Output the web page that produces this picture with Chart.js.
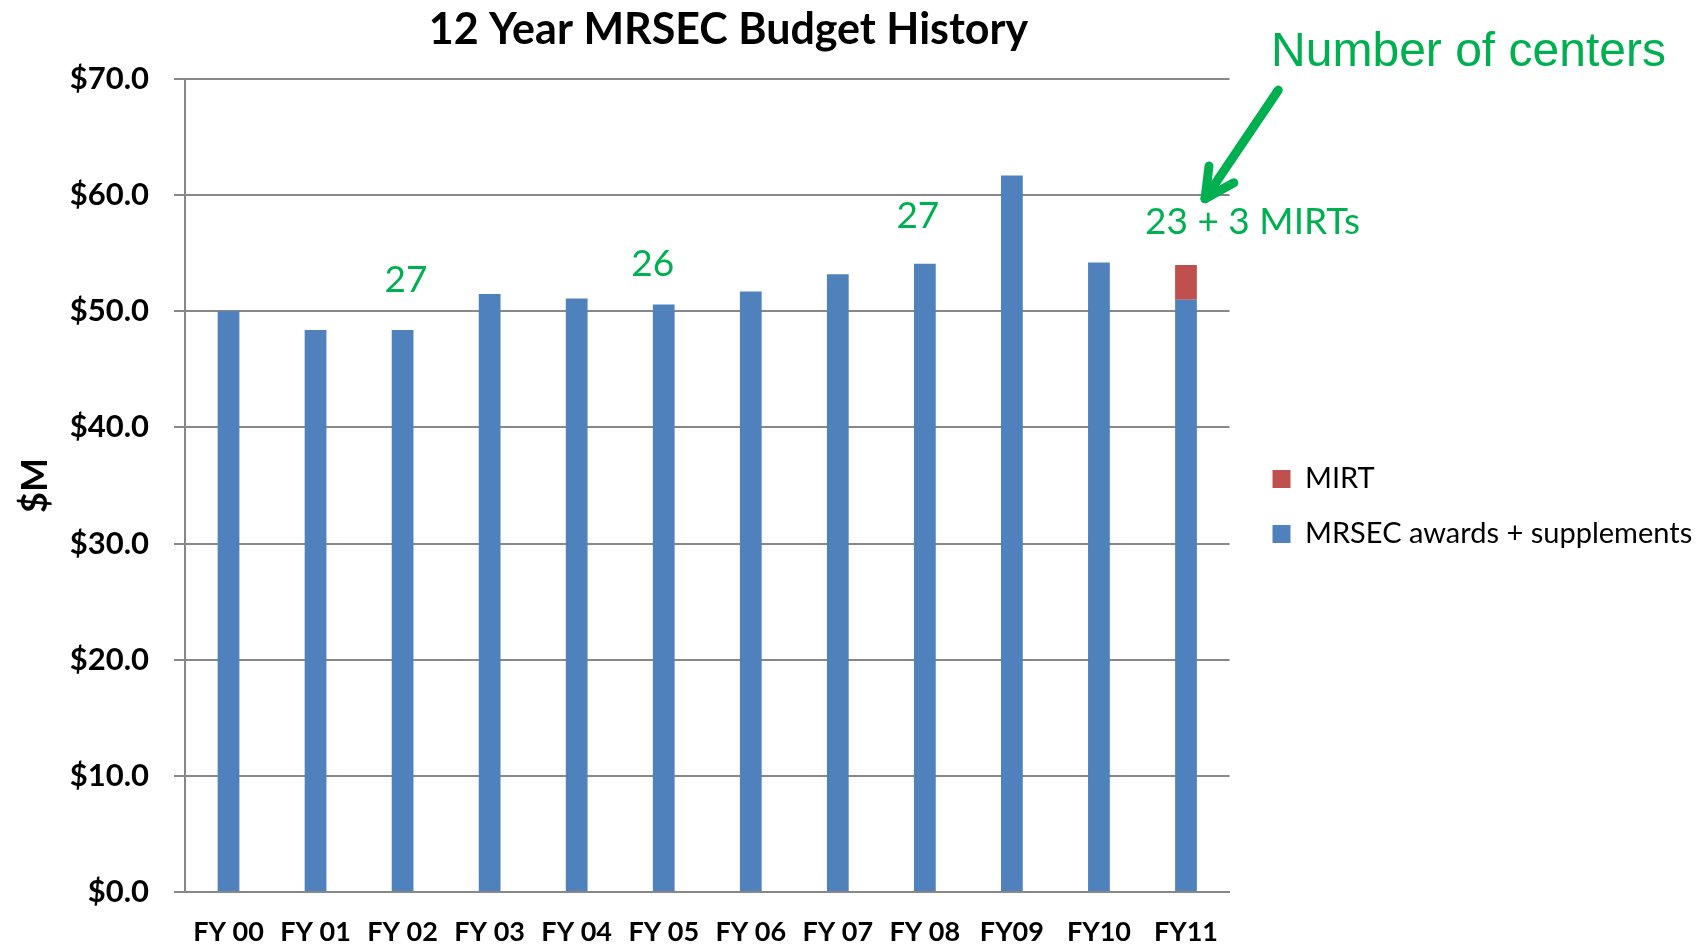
<!DOCTYPE html>
<html>
<head>
<meta charset="utf-8">
<title>12 Year MRSEC Budget History</title>
<script src="https://cdn.jsdelivr.net/npm/chart.js@4.4.1/dist/chart.umd.min.js"></script>
<style>
  html, body { margin: 0; padding: 0; background: #ffffff; }
  #wrap { width: 1697px; height: 947px; }
</style>
</head>
<body>
<div id="wrap"><canvas id="c" width="1697" height="947"></canvas></div>
<script>
// ---- data ----
const categories = ['FY 00', 'FY 01', 'FY 02', 'FY 03', 'FY 04', 'FY 05', 'FY 06', 'FY 07', 'FY 08', 'FY09', 'FY10', 'FY11'];
const mrsecValues = [50.0, 48.4, 48.4, 51.5, 51.1, 50.6, 51.7, 53.2, 54.1, 61.7, 54.2, 51.0];
const mirtValues = [null, null, null, null, null, null, null, null, null, null, null, 3.0];
const yTickValues = [0, 10, 20, 30, 40, 50, 60, 70];
const centerNoteIndex = [2, 5, 8, 11];
const centerNoteText = ['27', '26', '27', '23 + 3 MIRTs'];

const GREEN = '#00B050';
const GRID = '#888888';
const BODY_FONT = 'Lato';

// positions of the green notes (x offset in px from category centre, y in axis units)
const notePlacement = [
  {dx: 3.4, v: 52.8},
  {dx: -11, v: 54.2},
  {dx: -7, v: 58.3},
  {dx: 66.5, v: 57.8}
];

const annotations = {
  id: 'annotations',
  afterLayout(chart) {
    const lg = chart.legend;
    const dx = chart.chartArea.right + 17 - lg.left;
    lg.left += dx;
    lg.right = chart.width;
    lg.width = lg.right - lg.left;
    lg.top += 33; lg.bottom += 33;
  },
  afterDraw(chart) {
    const {ctx, scales: {x, y}} = chart;
    ctx.save();
    // green centre-count notes
    ctx.fillStyle = GREEN;
    ctx.textAlign = 'center';
    ctx.textBaseline = 'alphabetic';
    const fs = 37;
    ctx.font = fs + 'px ' + BODY_FONT;
    centerNoteIndex.forEach((idx, i) => {
      const p = notePlacement[i];
      const cx = x.getPixelForValue(idx) + p.dx;
      const cy = y.getPixelForValue(p.v);
      ctx.fillText(centerNoteText[i], cx, cy + fs * 0.358);
    });
    // "Number of centers"
    ctx.font = '48px "Liberation Sans", Arial, sans-serif';
    ctx.textBaseline = 'alphabetic';
    ctx.fillText('Number of centers', 1468.5, 49 + 48 * 0.358);
    // arrow
    const last = categories.length - 1;
    const bx = x.getPixelForValue(last);
    const tx = bx + 92.3, ty = y.getPixelForValue(69.05);
    const hx = bx + 19, hy = y.getPixelForValue(59.7);
    ctx.strokeStyle = GREEN;
    ctx.lineWidth = 9;
    ctx.lineCap = 'round';
    ctx.lineJoin = 'round';
    ctx.beginPath();
    ctx.moveTo(tx, ty);
    ctx.lineTo(hx, hy);
    ctx.stroke();
    const ang = Math.atan2(ty - hy, tx - hx);
    const wl = 33, spread = 27 * Math.PI / 180;
    ctx.beginPath();
    ctx.moveTo(hx + wl * Math.cos(ang - spread), hy + wl * Math.sin(ang - spread));
    ctx.lineTo(hx, hy);
    ctx.lineTo(hx + wl * Math.cos(ang + spread), hy + wl * Math.sin(ang + spread));
    ctx.stroke();
    ctx.restore();
  }
};

new Chart(document.getElementById('c'), {
  type: 'bar',
  data: {
    labels: categories,
    datasets: [
      {
        label: 'MRSEC awards + supplements',
        data: mrsecValues,
        backgroundColor: '#4F81BD',
        borderWidth: 0,
        categoryPercentage: 1.0,
        barPercentage: 0.25
      },
      {
        label: 'MIRT',
        data: mirtValues,
        backgroundColor: '#C0504D',
        borderWidth: 0,
        categoryPercentage: 1.0,
        barPercentage: 0.25
      }
    ]
  },
  options: {
    responsive: false,
    devicePixelRatio: 1,
    animation: false,
    layout: { padding: { left: 0, right: 240, top: 0, bottom: 0 } },
    plugins: {
      title: {
        display: true,
        text: '12 Year MRSEC Budget History',
        color: '#000000',
        font: { family: BODY_FONT, size: 43, weight: 'bold' },
        padding: { top: 4, bottom: 23.5 }
      },
      legend: {
        position: 'right',
        reverse: true,
        maxWidth: 227.5,
        labels: {
          boxWidth: 18,
          boxHeight: 18,
          padding: 26,
          color: '#000000',
          font: { family: BODY_FONT, size: 29 }
        }
      },
      tooltip: { enabled: false }
    },
    scales: {
      x: {
        stacked: true,
        grid: { display: false, drawTicks: false },
        border: { display: true, color: GRID, width: 2 },
        ticks: {
          color: '#000000',
          padding: 23.8,
          maxRotation: 0,
          autoSkip: false,
          font: { family: BODY_FONT, size: 27, weight: 'bold' }
        },
        afterFit(scale) { scale.height = 55; }
      },
      y: {
        stacked: true,
        min: 0,
        max: 70,
        afterBuildTicks(scale) { scale.ticks = yTickValues.map(v => ({ value: v })); },
        grid: { color: GRID, lineWidth: 2, drawTicks: true, tickLength: 11, tickColor: GRID, tickWidth: 2 },
        border: { display: true, color: GRID, width: 2 },
        ticks: {
          color: '#000000',
          padding: 25,
          font: { family: BODY_FONT, size: 31, weight: 'bold' },
          callback: (v) => '$' + Number(v).toFixed(1)
        },
        title: {
          display: true,
          text: '$M',
          color: '#000000',
          font: { family: BODY_FONT, size: 36, weight: 'bold' },
          padding: { top: 14, bottom: 0 }
        },
        afterFit(scale) { scale.width = 185; }
      }
    }
  },
  plugins: [annotations]
});
</script>
</body>
</html>
